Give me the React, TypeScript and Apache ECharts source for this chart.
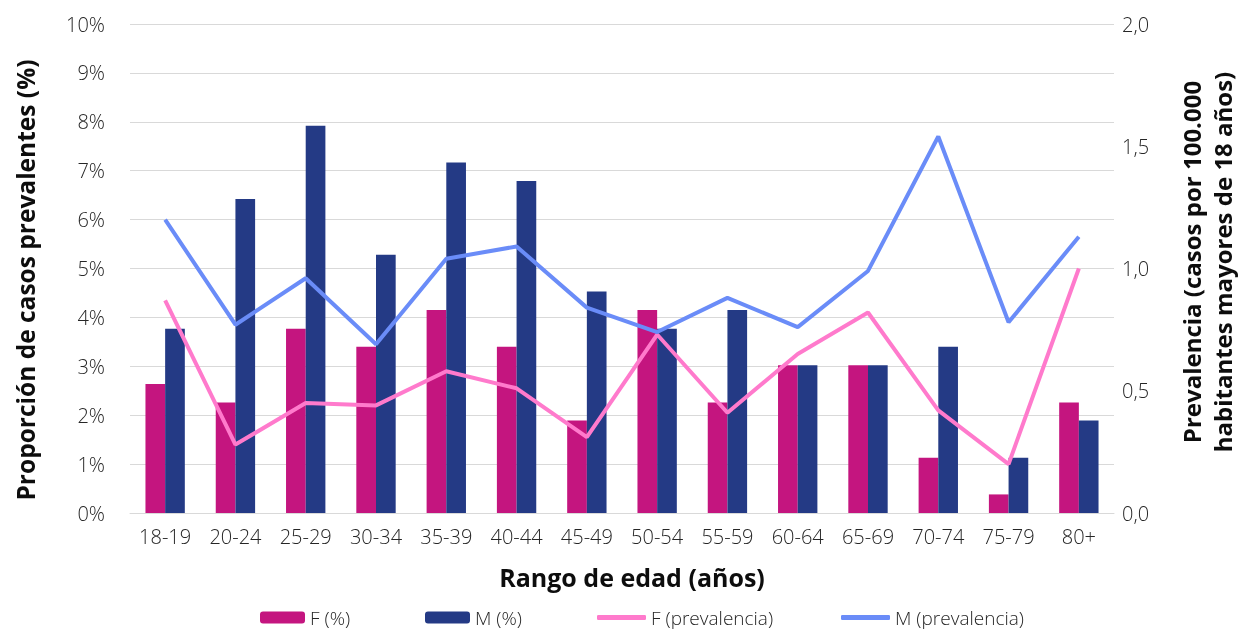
import React, { useEffect, useRef } from 'react';
import * as echarts from 'echarts';

const categories = ['18-19', '20-24', '25-29', '30-34', '35-39', '40-44', '45-49', '50-54', '55-59', '60-64', '65-69', '70-74', '75-79', '80+'];
const fPct = [2.64, 2.26, 3.77, 3.40, 4.15, 3.40, 1.89, 4.15, 2.26, 3.02, 3.02, 1.13, 0.38, 2.26];
const mPct = [3.77, 6.42, 7.92, 5.28, 7.17, 6.79, 4.53, 3.77, 4.15, 3.02, 3.02, 3.40, 1.13, 1.89];
const fPrev = [0.87, 0.28, 0.45, 0.44, 0.58, 0.51, 0.31, 0.73, 0.41, 0.65, 0.82, 0.42, 0.20, 1.00];
const mPrev = [1.20, 0.77, 0.96, 0.69, 1.04, 1.09, 0.84, 0.74, 0.88, 0.76, 0.99, 1.54, 0.78, 1.13];

const seriesNames = ['F (%)', 'M (%)', 'F (prevalencia)', 'M (prevalencia)'];
const leftTitle = 'Proporción de casos prevalentes (%)';
const rightTitle = 'Prevalencia (casos por 100.000\nhabitantes mayores de 18 años)';
const xTitle = 'Rango de edad (años)';

const FONT = "'Open Sans', sans-serif";
const C_FBAR = '#C4157F';
const C_MBAR = '#243A85';
const C_FLINE = '#FF7ACC';
const C_MLINE = '#6A8CF8';
const TXT = '#262626';

export default function App() {
  const ref = useRef<HTMLDivElement>(null);
  useEffect(() => {
    if (!ref.current) return;
    const chart = echarts.init(ref.current, undefined, { renderer: 'svg' });
    const legendBase = {
      top: 603,
      itemGap: 0,
      textStyle: { fontFamily: FONT, fontSize: 19, color: TXT, fontWeight: 300 as any },
      selectedMode: false,
    };
    chart.setOption({
      animation: false,
      textStyle: { fontFamily: FONT },
      grid: { left: 130, right: 125, top: 24, bottom: 118 },
      legend: [
        { ...legendBase, left: 255, data: [seriesNames[0]], itemWidth: 45, itemHeight: 12 },
        { ...legendBase, left: 420, data: [seriesNames[1]], itemWidth: 45, itemHeight: 12 },
        { ...legendBase, left: 592, data: [{ name: seriesNames[2], icon: 'roundRect' }], itemWidth: 49, itemHeight: 5 },
        { ...legendBase, left: 836, data: [{ name: seriesNames[3], icon: 'roundRect' }], itemWidth: 49, itemHeight: 5 },
      ],
      xAxis: {
        type: 'category',
        data: categories,
        axisTick: { show: false },
        axisLine: { lineStyle: { color: '#D9D9D9', width: 1 } },
        axisLabel: { fontFamily: FONT, fontSize: 20, color: TXT, margin: 13, fontWeight: 300 },
      },
      yAxis: [
        {
          type: 'value',
          min: 0,
          max: 10,
          interval: 1,
          axisLabel: { fontFamily: FONT, fontSize: 20, color: TXT, margin: 25, formatter: '{value}%', fontWeight: 300 },
          splitLine: { lineStyle: { color: '#D9D9D9', width: 1 } },
          axisLine: { show: false },
          axisTick: { show: false },
        },
        {
          type: 'value',
          min: 0,
          max: 2,
          interval: 0.5,
          axisLabel: {
            fontFamily: FONT,
            fontSize: 20,
            color: TXT,
            margin: 8,
            fontWeight: 300,
            formatter: (v: number) => v.toFixed(1).replace('.', ','),
          },
          splitLine: { show: false },
          axisLine: { show: false },
          axisTick: { show: false },
        },
      ],
      series: [
        {
          name: seriesNames[0],
          type: 'bar',
          data: fPct,
          yAxisIndex: 0,
          barGap: '0%',
          barCategoryGap: '44%',
          itemStyle: { color: C_FBAR },
        },
        {
          name: seriesNames[1],
          type: 'bar',
          data: mPct,
          yAxisIndex: 0,
          barGap: '0%',
          barCategoryGap: '44%',
          itemStyle: { color: C_MBAR },
        },
        {
          name: seriesNames[2],
          type: 'line',
          data: fPrev,
          yAxisIndex: 1,
          showSymbol: false,
          symbol: 'none',
          lineStyle: { color: C_FLINE, width: 4 },
          itemStyle: { color: C_FLINE },
        },
        {
          name: seriesNames[3],
          type: 'line',
          data: mPrev,
          yAxisIndex: 1,
          showSymbol: false,
          symbol: 'none',
          lineStyle: { color: C_MLINE, width: 4 },
          itemStyle: { color: C_MLINE },
        },
      ],
      graphic: [
        {
          type: 'text',
          x: 25,
          y: 280,
          rotation: Math.PI / 2,
          style: {
            text: leftTitle,
            fontFamily: FONT,
            fontSize: 24.5,
            fontWeight: 'bold',
            fill: '#0D0D0D',
            textAlign: 'center',
            textVerticalAlign: 'middle',
          },
        },
        {
          type: 'text',
          x: 1207,
          y: 262,
          rotation: Math.PI / 2,
          style: {
            text: rightTitle,
            fontFamily: FONT,
            fontSize: 24,
            fontWeight: 'bold',
            fill: '#0D0D0D',
            textAlign: 'center',
            textVerticalAlign: 'middle',
            lineHeight: 31,
          },
        },
        {
          type: 'text',
          x: 632,
          y: 577,
          style: {
            text: xTitle,
            fontFamily: FONT,
            fontSize: 25,
            fontWeight: 'bold',
            fill: '#0D0D0D',
            textAlign: 'center',
            textVerticalAlign: 'middle',
          },
        },
      ],
    });
    return () => chart.dispose();
  }, []);
  return <div ref={ref} style={{ position: 'fixed', left: 0, top: 0, width: 1239, height: 631 }} />;
}
